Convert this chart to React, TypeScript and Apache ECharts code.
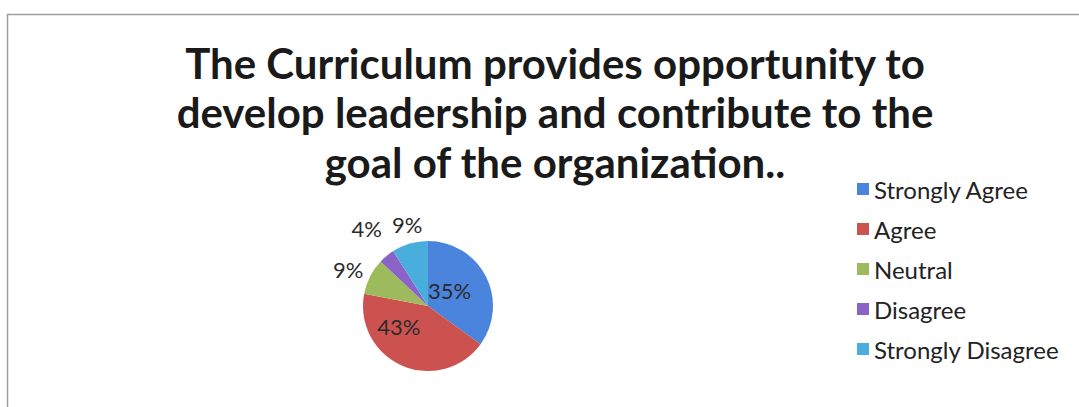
import React, { useEffect, useRef } from "react";
import * as echarts from "echarts";

const categories = ["Strongly Agree", "Agree", "Neutral", "Disagree", "Strongly Disagree"];
const values = [35, 43, 9, 4, 9];
const colors = ["#4a84dc", "#cc5250", "#9dbb5c", "#8a62c8", "#4aaedc"];
const titleLines = [
  "The Curriculum provides opportunity to",
  "develop leadership and contribute to the",
  "goal of the organization..",
];
const labelOffsets = [
  [-10, 1],
  [-15, -12],
  [9, -2],
  [8, -18],
  [21, -8],
];

export default function App() {
  const ref = useRef<HTMLDivElement>(null);
  useEffect(() => {
    if (!ref.current) return;
    const chart = echarts.init(ref.current, undefined, { renderer: "svg" });
    chart.setOption({
      animation: false,
      backgroundColor: "#ffffff",
      color: colors,
      title: {
        text: titleLines.join("\n"),
        left: 550,
        textAlign: "center",
        top: 33,
        textStyle: {
          fontFamily: "Lato",
          fontWeight: "bold",
          fontSize: 42,
          lineHeight: 49.5,
          color: "#1a1a1a",
        },
      },
      legend: {
        orient: "vertical",
        left: 852,
        top: 172,
        itemWidth: 12,
        itemHeight: 12,
        itemGap: 16,
        icon: "rect",
        textStyle: { fontFamily: "Lato", fontSize: 24, lineHeight: 24, color: "#222", padding: [0, 0, 0, 0] },
        data: categories,
      },
      graphic: [
        {
          type: "rect",
          shape: { x: 7.5, y: 14.5, width: 1100, height: 420 },
          style: { fill: "none", stroke: "#a0a0a0", lineWidth: 1.5 },
          silent: true,
        },
      ],
      series: [
        {
          type: "pie",
          center: [428, 306],
          radius: 65,
          startAngle: 90,
          clockwise: true,
          avoidLabelOverlap: false,
          label: {
            formatter: "{d}%",
            fontFamily: "Lato",
            fontSize: 22,
            color: "#2a2a2a",
          },
          labelLine: { show: false, length: 12, length2: 0 },
          itemStyle: { borderWidth: 0 },
          data: categories.map((name, i) => ({
            name,
            value: values[i],
            label: { position: i < 2 ? "inside" : "outside", offset: labelOffsets[i] },
          })),
        },
      ],
    });
    return () => chart.dispose();
  }, []);
  return (
    <div
      ref={ref}
      style={{ position: "fixed", left: 0, top: 0, width: 1079, height: 407 }}
    />
  );
}
